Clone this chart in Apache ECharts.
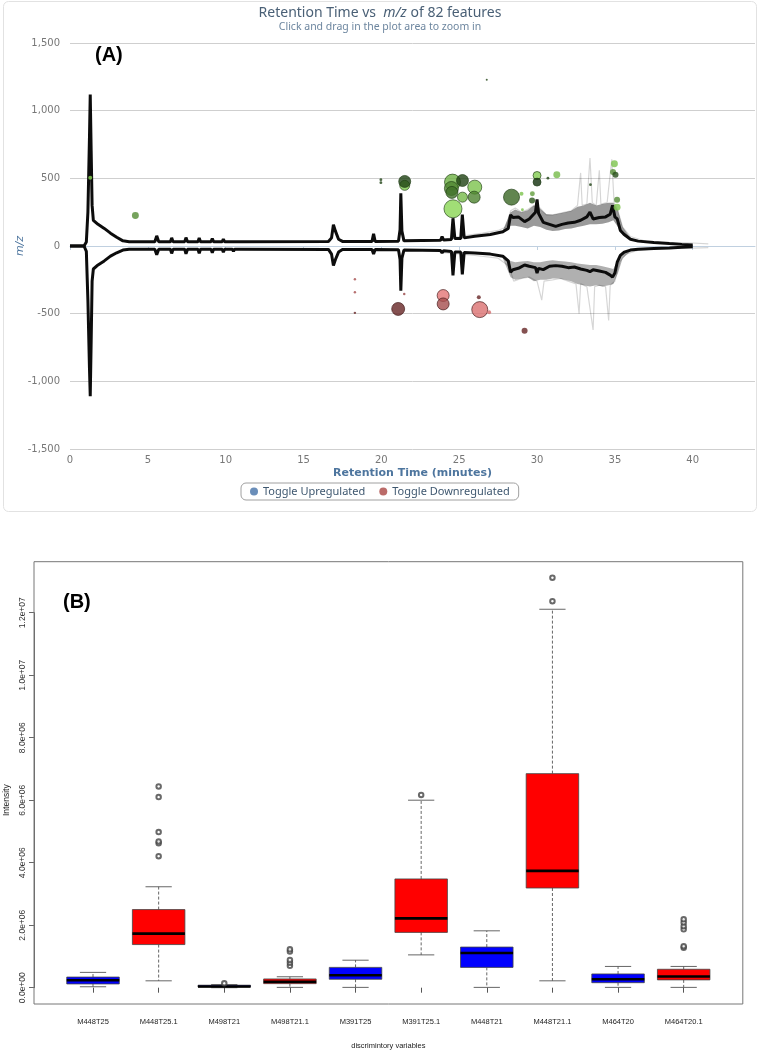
<!DOCTYPE html>
<html>
<head>
<meta charset="utf-8">
<script src="https://cdn.jsdelivr.net/npm/echarts@6/dist/echarts.min.js"></script>
<style>
html,body{margin:0;padding:0;background:#fff;}
#c{width:760px;height:1050px;}
</style>
</head>
<body>
<div id="c"></div>
<script>
// ---------- Panel A data ----------
const traceRT   = [0.0,0.9,1.05,1.15,1.25,1.3,1.36,1.42,1.5,1.8,2.2,2.6,3.0,3.4,3.8,5.45,5.57,5.7,6.45,6.53,6.62,7.37,7.45,7.55,8.22,8.3,8.38,9.06,9.14,9.22,9.78,9.85,9.93,10.43,10.5,10.57,11.0,11.06,11.12,16.6,16.8,16.92,17.05,17.25,17.5,19.4,19.5,19.6,21.1,21.2,21.25,21.32,21.45,23.8,23.9,24.0,24.5,24.6,24.72,25.1,25.2,25.32,26.0,27.0,27.8,28.15,28.3,28.45,28.8,29.2,29.5,29.9,30.0,30.1,30.4,30.8,31.2,31.6,32.0,32.4,32.8,33.2,33.4,33.6,34.0,34.4,34.7,34.85,35.0,35.15,35.35,35.6,36.0,36.5,37.5,38.5,39.3,40.0];
const traceUp   = [0,0,30,250,800,1120,700,300,190,160,130,95,65,38,32,32,75,32,32,60,32,32,62,32,32,60,32,32,55,32,32,50,32,32,45,32,32,42,32,33,60,158,110,50,34,34,90,34,36,120,390,110,38,42,70,44,48,205,55,55,232,60,72,85,105,130,230,210,215,180,200,250,345,240,175,160,145,160,170,175,190,215,250,200,210,215,235,300,215,200,115,85,50,36,26,18,12,8];
const traceDown = [0,0,-40,-400,-900,-1110,-700,-260,-170,-140,-110,-75,-50,-30,-24,-24,-65,-24,-24,-55,-24,-24,-58,-24,-24,-55,-24,-24,-50,-24,-24,-45,-24,-24,-40,-24,-24,-38,-24,-25,-60,-145,-100,-45,-26,-26,-60,-26,-28,-100,-330,-90,-30,-34,-50,-35,-40,-218,-45,-45,-210,-48,-52,-60,-75,-110,-193,-175,-165,-140,-150,-160,-200,-165,-175,-150,-145,-150,-160,-155,-170,-180,-190,-175,-185,-195,-215,-230,-200,-120,-70,-45,-30,-24,-18,-14,-10,-6];

// spread of the overlaid replicate runs (dark fuzzy band)
const spreadRT       = [27.8,28.3,28.6,29.0,29.4,29.8,30.2,30.6,31.0,31.4,31.8,32.2,32.6,33.0,33.4,33.8,34.2,34.6,34.9,35.2,35.5,36.0];
const spreadUpLo     = [90,150,150,140,130,150,140,120,110,115,125,130,140,150,160,160,165,175,190,140,80,45];
const spreadUpHi     = [115,250,270,250,265,300,275,235,230,240,250,260,290,300,320,300,310,320,320,260,140,60];
const spreadDownNear = [-70,-110,-120,-115,-110,-120,-120,-110,-105,-110,-115,-120,-130,-135,-140,-140,-150,-160,-170,-100,-55,-35];
const spreadDownFar  = [-90,-230,-250,-240,-230,-260,-250,-250,-240,-240,-250,-260,-280,-290,-300,-290,-300,-290,-280,-200,-90,-40];

// faint individual replicate spikes
const replUpRT   = [24.0,25.6,26.5,27.5,28.0,28.3,28.6,29.0,29.4,29.8,30.2,30.6,31.0,31.4,31.8,32.2,32.6,32.8,32.9,33.2,33.4,33.55,33.8,34.0,34.1,34.5,34.8,34.95,35.2,35.5,36.0,37.0,38.0,39.0,40.0,41.0];
const replUp     = [50,80,95,115,140,260,280,250,270,300,280,230,230,240,250,260,300,540,300,310,650,320,300,560,310,320,640,320,260,140,70,35,25,25,22,15];
const replDownRT = [24.0,26.0,27.5,28.2,28.5,29.0,29.5,30.0,30.3,30.45,31.0,31.5,32.0,32.5,32.7,32.8,33.2,33.6,33.7,34.0,34.4,34.6,34.7,35.0,35.3,35.7,36.5,38.0,40.0,41.0];
const replDown   = [-50,-70,-90,-150,-260,-240,-230,-260,-400,-260,-250,-240,-260,-280,-500,-280,-300,-620,-300,-290,-300,-550,-290,-260,-120,-60,-30,-20,-15,-12];

const upRT        = [1.3,4.2,19.97,19.97,21.5,21.5,24.57,24.5,24.53,25.21,25.21,26.0,25.96,24.6,28.36,29.0,29.06,29.7,29.68,30.0,30.0,30.7,31.27,33.43,34.97,34.88,35.04,35.14,35.14,26.77];
const upMZ        = [505,226,490,468,448,477,472,425,396,484,361,435,361,275,361,386,268,386,337,521,472,501,527,453,608,546,527,342,287,1229];
const upAbundance = [4,12,2,2,25,36,64,49,36,36,25,49,36,81,64,4,2,6,9,16,16,2,12,2,12,9,9,9,12,1];
const upShade     = [0.1,0.5,0.9,0.9,0.2,0.9,0.3,0.55,0.65,0.9,0.25,0.2,0.55,0.1,0.7,0.2,0.2,0.4,0.8,0.15,1.0,0.9,0.25,0.9,0.2,0.5,0.85,0.5,0.2,0.9];

const downRT        = [18.3,18.3,18.3,21.47,21.08,23.97,23.97,26.26,26.32,26.92,29.2];
const downMZ        = [-245,-342,-494,-354,-465,-366,-428,-379,-470,-490,-627];
const downAbundance = [1.5,1.5,1.5,1.5,42,36,36,4,64,4,9];
const downShade     = [0.5,0.5,0.9,0.6,0.9,0.1,0.5,0.9,0.15,0.2,0.9];

// ---------- Panel B data ----------
const variables  = ['M448T25','M448T25.1','M498T21','M498T21.1','M391T25','M391T25.1','M448T21','M448T21.1','M464T20','M464T20.1'];
const regulation = ['up','down','up','down','up','down','up','down','up','down'];
const whiskLow   = [0.03e6,0.22e6,0.0,0.01e6,0.01e6,1.05e6,0.01e6,0.22e6,0.01e6,0.01e6];
const q1         = [0.12e6,1.38e6,0.02e6,0.13e6,0.27e6,1.77e6,0.65e6,3.19e6,0.16e6,0.25e6];
const median     = [0.24e6,1.73e6,0.04e6,0.19e6,0.40e6,2.22e6,1.11e6,3.74e6,0.27e6,0.36e6];
const q3         = [0.34e6,2.50e6,0.08e6,0.28e6,0.65e6,3.48e6,1.30e6,6.85e6,0.44e6,0.59e6];
const whiskHigh  = [0.49e6,3.23e6,0.10e6,0.35e6,0.88e6,6.00e6,1.82e6,12.11e6,0.68e6,0.68e6];
const outlierVar = [1,1,1,1,1,1,2,3,3,3,3,3,5,7,7,9,9,9,9,9,9];
const outlierVal = [4.21e6,4.62e6,4.68e6,4.98e6,6.10e6,6.44e6,0.14e6,0.70e6,0.80e6,0.89e6,1.16e6,1.23e6,6.17e6,12.37e6,13.12e6,1.28e6,1.33e6,1.87e6,1.97e6,2.09e6,2.19e6];

// ---------- helpers ----------
function mix(a, b, t) {
  return 'rgb(' + a.map((v, i) => Math.round(v + (b[i] - v) * t)).join(',') + ')';
}
const GREEN_L = [150,232,92], GREEN_D = [18,48,12];
const RED_L = [242,128,128], RED_D = [88,28,28];

function bubbles(rt, mz, ab, sh, light, dark, edge) {
  return rt.map((x, i) => {
    const d = 2 * Math.sqrt(ab[i]);
    return {
      value: [x, mz[i]],
      symbolSize: d,
      itemStyle: {
        color: mix(light, dark, sh[i]),
        borderColor: d >= 7 ? edge : 'transparent',
        borderWidth: d >= 7 ? 0.8 : 0
      }
    };
  });
}

function rFmt(v) {
  if (v === 0) return '0.0e+00';
  const e = Math.floor(Math.log10(v) + 1e-9);
  const m = v / Math.pow(10, e);
  return m.toFixed(1) + 'e+' + (e < 10 ? '0' + e : e);
}

function bandSeries(name, lo, hi, color) {
  return {
    name: name, type: 'custom', xAxisIndex: 0, yAxisIndex: 0, silent: true, z: 2,
    data: [[spreadRT[0], lo[0]]],
    renderItem: function (params, api) {
      const pts = [];
      for (let i = 0; i < spreadRT.length; i++) pts.push(api.coord([spreadRT[i], hi[i]]));
      for (let i = spreadRT.length - 1; i >= 0; i--) pts.push(api.coord([spreadRT[i], lo[i]]));
      return {type: 'polygon', shape: {points: pts}, style: {fill: color}};
    }
  };
}

const chart = echarts.init(document.getElementById('c'), null, {renderer: 'canvas', width: 760, height: 1050});

const option = {
  backgroundColor: '#fff',
  animation: false,
  title: [
    {
      text: '{a|Retention Time vs  }{i|m/z}{a| of 82 features}',
      subtext: 'Click and drag in the plot area to zoom in',
      left: 'center', top: 5, itemGap: 0, padding: 0,
      textStyle: {
        fontFamily: 'Noto Sans', fontSize: 14, fontWeight: 'normal', color: '#4a6076', lineHeight: 16,
        rich: {
          a: {fontFamily: 'Noto Sans', fontSize: 14, color: '#4a6076'},
          i: {fontFamily: 'Noto Sans', fontSize: 14, color: '#4a6076', fontStyle: 'italic'}
        }
      },
      subtextStyle: {fontFamily: 'Noto Sans', fontSize: 10.5, color: '#6d869f', lineHeight: 12}
    },
    {text: '(A)', left: 95, top: 45, padding: 0,
     textStyle: {fontFamily: 'Liberation Sans', fontSize: 20, fontWeight: 'bold', color: '#000'}},
    {text: '(B)', left: 63, top: 592, padding: 0,
     textStyle: {fontFamily: 'Liberation Sans', fontSize: 20, fontWeight: 'bold', color: '#000'}}
  ],
  legend: {
    left: 241, top: 483, padding: [3, 9, 3, 9],
    borderColor: '#a0a0a0', borderWidth: 1, borderRadius: 5,
    itemGap: 14, itemWidth: 8, itemHeight: 8, icon: 'circle',
    textStyle: {fontFamily: 'Noto Sans', fontSize: 11, color: '#3E576F'},
    data: [
      {name: 'Toggle Upregulated', itemStyle: {color: '#4572A7'}},
      {name: 'Toggle Downregulated', itemStyle: {color: '#AA4643'}}
    ]
  },
  graphic: [
    {type: 'rect', shape: {x: 3.5, y: 1.5, width: 753, height: 510, r: 5},
     style: {fill: 'none', stroke: '#e2e2e2', lineWidth: 1}, z: -1},
    {type: 'rect', shape: {x: 34, y: 561.7, width: 708.8, height: 442.3},
     style: {fill: 'none', stroke: '#777', lineWidth: 1}, z: 10}
  ],
  grid: [
    {left: 70, top: 43, width: 685, height: 406, outerBoundsMode: 'none', containLabel: false},
    {left: 60.2, top: 612.7, width: 656.3, height: 375, outerBoundsMode: 'none', containLabel: false}
  ],
  xAxis: [
    {
      gridIndex: 0, type: 'value', min: 0, max: 44, interval: 5,
      axisLine: {show: true, lineStyle: {color: '#C0D0E0', width: 1}},
      axisTick: {show: true, length: 4, lineStyle: {color: '#C0D0E0'}},
      splitLine: {show: false},
      axisLabel: {color: '#777', fontFamily: 'DejaVu Sans', fontSize: 10, margin: 6, showMaxLabel: false},
      name: 'Retention Time (minutes)', nameLocation: 'middle', nameGap: 19, nameMoveOverlap: false,
      nameTextStyle: {color: '#4d759e', fontFamily: 'DejaVu Sans', fontWeight: 'bold', fontSize: 11}
    },
    {
      gridIndex: 1, type: 'category', data: variables, offset: 16.3,
      axisLine: {show: false},
      axisTick: {show: true, alignWithLabel: true, length: 5, lineStyle: {color: '#555'}},
      axisLabel: {color: '#222', fontFamily: 'Liberation Sans', fontSize: 7.5, margin: 14},
      splitLine: {show: false},
      name: 'discrimintory variables', nameLocation: 'middle', nameGap: 38, nameMoveOverlap: false,
      nameTextStyle: {color: '#222', fontFamily: 'Liberation Sans', fontSize: 7.5}
    }
  ],
  yAxis: [
    {
      gridIndex: 0, type: 'value', min: -1500, max: 1500, interval: 500,
      axisLine: {show: false}, axisTick: {show: false},
      splitLine: {show: true, lineStyle: {color: '#cfcfcf', width: 1}},
      axisLabel: {color: '#777', fontFamily: 'DejaVu Sans', fontSize: 10, margin: 10,
        formatter: v => (v < 0 ? '-' : '') + Math.abs(v).toLocaleString('en-US')},
      name: 'm/z', nameLocation: 'middle', nameGap: 44, nameRotate: 90, nameMoveOverlap: false,
      nameTextStyle: {color: '#4d759e', fontFamily: 'DejaVu Sans', fontStyle: 'italic', fontSize: 11}
    },
    {
      gridIndex: 1, type: 'value', min: 0, max: 12e6, interval: 2e6, offset: 26.2,
      axisLine: {show: true, lineStyle: {color: '#666'}},
      axisTick: {show: true, length: 5, lineStyle: {color: '#666'}},
      splitLine: {show: false},
      axisLabel: {rotate: 90, color: '#333', fontFamily: 'Liberation Sans', fontSize: 8.5, margin: 7, formatter: rFmt},
      name: 'Intensity', nameLocation: 'middle', nameGap: 23, nameRotate: 90, nameMoveOverlap: false,
      nameTextStyle: {color: '#222', fontFamily: 'Liberation Sans', fontSize: 8.5}
    }
  ],
  series: [
    {
      name: 'replicates-up', type: 'line', xAxisIndex: 0, yAxisIndex: 0,
      data: replUpRT.map((x, i) => [x, replUp[i]]), showSymbol: false, silent: true,
      lineStyle: {color: 'rgba(0,0,0,0.16)', width: 1.2}, z: 2
    },
    {
      name: 'replicates-down', type: 'line', xAxisIndex: 0, yAxisIndex: 0,
      data: replDownRT.map((x, i) => [x, replDown[i]]), showSymbol: false, silent: true,
      lineStyle: {color: 'rgba(0,0,0,0.16)', width: 1.2}, z: 2
    },
    bandSeries('spread-up', spreadUpLo, spreadUpHi, 'rgba(30,30,30,0.45)'),
    bandSeries('spread-down', spreadDownNear, spreadDownFar, 'rgba(30,30,30,0.35)'),
    {
      name: 'trace-up', type: 'line', xAxisIndex: 0, yAxisIndex: 0,
      data: traceRT.map((x, i) => [x, traceUp[i]]), showSymbol: false, silent: true,
      lineStyle: {color: '#0c0c0c', width: 3}, z: 3
    },
    {
      name: 'trace-down', type: 'line', xAxisIndex: 0, yAxisIndex: 0,
      data: traceRT.map((x, i) => [x, traceDown[i]]), showSymbol: false, silent: true,
      lineStyle: {color: '#0c0c0c', width: 3}, z: 3
    },
    {
      name: 'Toggle Upregulated', type: 'scatter', xAxisIndex: 0, yAxisIndex: 0,
      itemStyle: {color: '#4572A7'},
      data: bubbles(upRT, upMZ, upAbundance, upShade, GREEN_L, GREEN_D, '#1c3a12'), z: 5
    },
    {
      name: 'Toggle Downregulated', type: 'scatter', xAxisIndex: 0, yAxisIndex: 0,
      itemStyle: {color: '#AA4643'},
      data: bubbles(downRT, downMZ, downAbundance, downShade, RED_L, RED_D, '#3a1212'), z: 5
    },
    {
      name: 'boxes', type: 'custom', xAxisIndex: 1, yAxisIndex: 1, clip: false,
      data: variables.map((v, i) => [i, whiskLow[i], q1[i], median[i], q3[i], whiskHigh[i]]),
      renderItem: function (params, api) {
        const i = api.value(0);
        const x = api.coord([i, 0])[0];
        const bw = api.size([1, 0])[0] * 0.8;
        const yL = api.coord([i, api.value(1)])[1];
        const y1 = api.coord([i, api.value(2)])[1];
        const yM = api.coord([i, api.value(3)])[1];
        const y3 = api.coord([i, api.value(4)])[1];
        const yH = api.coord([i, api.value(5)])[1];
        const fill = regulation[i] === 'up' ? '#0000ff' : '#ff0000';
        const wStyle = {stroke: '#555', lineWidth: 0.9, lineDash: [3, 2]};
        const cStyle = {stroke: '#555', lineWidth: 0.9};
        return {
          type: 'group',
          children: [
            {type: 'line', shape: {x1: x, y1: y3, x2: x, y2: yH}, style: wStyle},
            {type: 'line', shape: {x1: x, y1: y1, x2: x, y2: yL}, style: wStyle},
            {type: 'line', shape: {x1: x - bw / 4, y1: yH, x2: x + bw / 4, y2: yH}, style: cStyle},
            {type: 'line', shape: {x1: x - bw / 4, y1: yL, x2: x + bw / 4, y2: yL}, style: cStyle},
            {type: 'rect', shape: {x: x - bw / 2, y: y3, width: bw, height: Math.max(y1 - y3, 1)},
             style: {fill: fill, stroke: '#444', lineWidth: 0.8}},
            {type: 'line', shape: {x1: x - bw / 2, y1: yM, x2: x + bw / 2, y2: yM},
             style: {stroke: '#000', lineWidth: 2.6}}
          ]
        };
      },
      z: 3
    },
    {
      name: 'outliers', type: 'scatter', xAxisIndex: 1, yAxisIndex: 1, clip: false,
      symbol: 'emptyCircle', symbolSize: 4.5,
      itemStyle: {color: '#444', borderColor: '#444', borderWidth: 0.8},
      data: outlierVar.map((k, i) => [k, outlierVal[i]]), z: 4
    }
  ]
};
chart.setOption(option);
</script>
</body>
</html>
